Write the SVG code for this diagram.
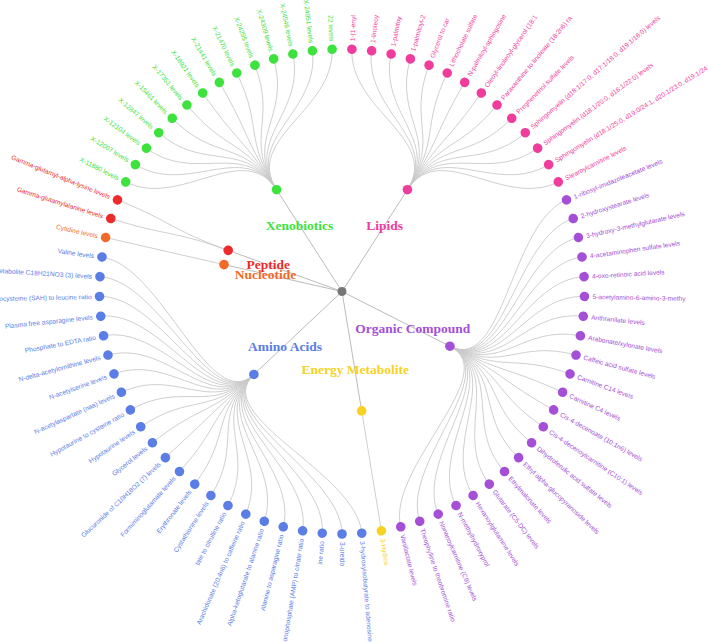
<svg xmlns="http://www.w3.org/2000/svg" width="708" height="642" viewBox="0 0 708 642">
<style>
.link{fill:none;stroke:#c9c9c9;stroke-width:0.9}
.trunk{fill:none;stroke:#bcbcbc;stroke-width:1}
.lf text{font-family:"Liberation Sans",Arial,sans-serif;font-size:6.6px;dominant-baseline:central}
.L text{text-anchor:end}
.cat text{font-family:"Liberation Serif","Times New Roman",serif;font-weight:bold;font-size:13.5px;text-anchor:middle}
.lip{fill:#f03c9c}.org{fill:#a54fd6}.ene{fill:#f7d223}.ami{fill:#5a7de6}.nuc{fill:#f26a2a}.pep{fill:#ee2b2b}.xen{fill:#3de23d}
</style>
<rect width="708" height="642" fill="#ffffff"/>
<g transform="translate(342,291.5)">
<g id="connectors">
<path class="trunk" d="M0,0L65.42,-101.79M0,0L107.92,54.71M0,0L19.66,119.39M0,0L-88.12,82.93M0,0L-117.97,-26.92M0,0L-113.8,-41.13M0,0L-65.42,-101.79"/>
<path class="link" d="M65.42,-101.79C98.26,-152.9 7.41,-181.6 9.89,-242.3M65.42,-101.79C98.26,-152.9 22.19,-180.39 29.61,-240.69M65.42,-101.79C98.26,-152.9 36.82,-177.98 49.12,-237.47M65.42,-101.79C98.26,-152.9 51.2,-174.39 68.32,-232.68M65.42,-101.79C98.26,-152.9 65.25,-169.63 87.06,-226.33M65.42,-101.79C98.26,-152.9 78.86,-163.75 105.22,-218.49M65.42,-101.79C98.26,-152.9 91.95,-156.77 122.68,-209.18M65.42,-101.79C98.26,-152.9 104.41,-148.76 139.31,-198.49M65.42,-101.79C98.26,-152.9 116.21,-139.74 155.06,-186.45M65.42,-101.79C98.26,-152.9 127.2,-129.82 169.71,-173.22M65.42,-101.79C98.26,-152.9 137.36,-119.02 183.27,-158.8M65.42,-101.79C98.26,-152.9 146.6,-107.43 195.6,-143.34M65.42,-101.79C98.26,-152.9 154.85,-95.15 206.61,-126.95M65.42,-101.79C98.26,-152.9 162.11,-82.18 216.29,-109.65"/>
<path class="link" d="M107.92,54.71C162.11,82.18 168.27,-68.7 224.52,-91.66M107.92,54.71C162.11,82.18 173.31,-54.75 231.24,-73.05M107.92,54.71C162.11,82.18 177.19,-40.44 236.42,-53.96M107.92,54.71C162.11,82.18 179.9,-25.86 240.03,-34.51M107.92,54.71C162.11,82.18 181.41,-11.11 242.05,-14.83M107.92,54.71C162.11,82.18 181.71,3.71 242.45,4.95M107.92,54.71C162.11,82.18 180.81,18.51 241.24,24.69M107.92,54.71C162.11,82.18 178.7,33.18 238.43,44.27M107.92,54.71C162.11,82.18 175.39,47.64 234.02,63.56M107.92,54.71C162.11,82.18 170.93,61.77 228.06,82.42M107.92,54.71C162.11,82.18 165.33,75.5 220.59,100.74M107.92,54.71C162.11,82.18 158.61,88.74 211.63,118.4M107.92,54.71C162.11,82.18 150.84,101.39 201.26,135.28M107.92,54.71C162.11,82.18 142.07,113.36 189.55,151.25M107.92,54.71C162.11,82.18 132.36,124.56 176.6,166.19M107.92,54.71C162.11,82.18 121.78,134.91 162.49,180.01M107.92,54.71C162.11,82.18 110.42,144.36 147.32,192.62M107.92,54.71C162.11,82.18 98.26,152.9 131.11,204.01M107.92,54.71C162.11,82.18 85.47,160.4 114.04,214.01M107.92,54.71C162.11,82.18 72.12,166.83 96.22,222.59M107.92,54.71C162.11,82.18 58.28,172.15 77.76,229.7M107.92,54.71C162.11,82.18 44.05,176.33 58.77,235.27"/>
<path class="link" d="M19.66,119.39L39.4,239.28"/>
<path class="link" d="M-88.12,82.93C-132.36,124.56 14.81,181.14 19.76,241.69M-88.12,82.93C-132.36,124.56 0,181.75 0,242.5M-88.12,82.93C-132.36,124.56 -14.81,181.14 -19.76,241.69M-88.12,82.93C-132.36,124.56 -29.53,179.33 -39.4,239.28M-88.12,82.93C-132.36,124.56 -44.05,176.33 -58.77,235.27M-88.12,82.93C-132.36,124.56 -58.28,172.15 -77.76,229.7M-88.12,82.93C-132.36,124.56 -72.12,166.83 -96.22,222.59M-88.12,82.93C-132.36,124.56 -85.47,160.4 -114.04,214.01M-88.12,82.93C-132.36,124.56 -98.26,152.9 -131.11,204.01M-88.12,82.93C-132.36,124.56 -110.42,144.36 -147.32,192.62M-88.12,82.93C-132.36,124.56 -121.78,134.91 -162.49,180.01M-88.12,82.93C-132.36,124.56 -132.36,124.56 -176.6,166.19M-88.12,82.93C-132.36,124.56 -142.07,113.36 -189.55,151.25M-88.12,82.93C-132.36,124.56 -150.84,101.39 -201.26,135.28M-88.12,82.93C-132.36,124.56 -158.61,88.74 -211.63,118.4M-88.12,82.93C-132.36,124.56 -165.33,75.5 -220.59,100.74M-88.12,82.93C-132.36,124.56 -170.93,61.77 -228.06,82.42M-88.12,82.93C-132.36,124.56 -175.39,47.64 -234.02,63.56M-88.12,82.93C-132.36,124.56 -178.7,33.18 -238.43,44.27M-88.12,82.93C-132.36,124.56 -180.81,18.51 -241.24,24.69M-88.12,82.93C-132.36,124.56 -181.71,3.71 -242.45,4.95M-88.12,82.93C-132.36,124.56 -181.41,-11.11 -242.05,-14.83M-88.12,82.93C-132.36,124.56 -179.9,-25.86 -240.03,-34.51"/>
<path class="link" d="M-117.97,-26.92L-236.42,-53.96"/>
<path class="link" d="M-113.8,-41.13C-170.93,-61.77 -173.31,-54.75 -231.24,-73.05M-113.8,-41.13C-170.93,-61.77 -168.27,-68.7 -224.52,-91.66"/>
<path class="link" d="M-65.42,-101.79C-98.26,-152.9 -162.11,-82.18 -216.29,-109.65M-65.42,-101.79C-98.26,-152.9 -154.85,-95.15 -206.61,-126.95M-65.42,-101.79C-98.26,-152.9 -146.6,-107.43 -195.6,-143.34M-65.42,-101.79C-98.26,-152.9 -137.36,-119.02 -183.27,-158.8M-65.42,-101.79C-98.26,-152.9 -127.2,-129.82 -169.71,-173.22M-65.42,-101.79C-98.26,-152.9 -116.21,-139.74 -155.06,-186.45M-65.42,-101.79C-98.26,-152.9 -104.41,-148.76 -139.31,-198.49M-65.42,-101.79C-98.26,-152.9 -91.95,-156.77 -122.68,-209.18M-65.42,-101.79C-98.26,-152.9 -78.86,-163.75 -105.22,-218.49M-65.42,-101.79C-98.26,-152.9 -65.25,-169.63 -87.06,-226.33M-65.42,-101.79C-98.26,-152.9 -51.2,-174.39 -68.32,-232.68M-65.42,-101.79C-98.26,-152.9 -36.82,-177.98 -49.12,-237.47M-65.42,-101.79C-98.26,-152.9 -22.19,-180.39 -29.61,-240.69M-65.42,-101.79C-98.26,-152.9 -7.41,-181.6 -9.89,-242.3"/>
</g>
<g id="leaves">
<g id="lip-0" class="lf lip" transform="rotate(-87.662)"><circle cx="242.5" r="4.8"/><text x="250.5">1-(1-enyl</text></g>
<g id="lip-1" class="lf lip" transform="rotate(-82.987)"><circle cx="242.5" r="4.8"/><text x="250.5">1-linoleoy</text></g>
<g id="lip-2" class="lf lip" transform="rotate(-78.312)"><circle cx="242.5" r="4.8"/><text x="250.5">1-palmitoy</text></g>
<g id="lip-3" class="lf lip" transform="rotate(-73.636)"><circle cx="242.5" r="4.8"/><text x="250.5">1-palmitoyl-2</text></g>
<g id="lip-4" class="lf lip" transform="rotate(-68.961)"><circle cx="242.5" r="4.8"/><text x="250.5">Glycerol to car</text></g>
<g id="lip-5" class="lf lip" transform="rotate(-64.286)"><circle cx="242.5" r="4.8"/><text x="250.5">Lithocholate sulfate</text></g>
<g id="lip-6" class="lf lip" transform="rotate(-59.610)"><circle cx="242.5" r="4.8"/><text x="250.5">N-palmitoyl-sphingosine</text></g>
<g id="lip-7" class="lf lip" transform="rotate(-54.935)"><circle cx="242.5" r="4.8"/><text x="250.5">Oleoyl-linoleoyl-glycerol (18:1</text></g>
<g id="lip-8" class="lf lip" transform="rotate(-50.260)"><circle cx="242.5" r="4.8"/><text x="250.5">Paraxanthine to linoleate (18:2n6) ra</text></g>
<g id="lip-9" class="lf lip" transform="rotate(-45.584)"><circle cx="242.5" r="4.8"/><text x="250.5">Pregnenetriol sulfate levels</text></g>
<g id="lip-10" class="lf lip" transform="rotate(-40.909)"><circle cx="242.5" r="4.8"/><text x="250.5">Sphingomyelin (d18:1/17:0, d17:1/18:0, d19:1/16:0) levels</text></g>
<g id="lip-11" class="lf lip" transform="rotate(-36.234)"><circle cx="242.5" r="4.8"/><text x="250.5">Sphingomyelin (d18:1/20:0, d16:1/22:0) levels</text></g>
<g id="lip-12" class="lf lip" transform="rotate(-31.558)"><circle cx="242.5" r="4.8"/><text x="250.5">Sphingomyelin (d18:1/25:0, d19:0/24:1, d20:1/23:0, d19:1/24:</text></g>
<g id="lip-13" class="lf lip" transform="rotate(-26.883)"><circle cx="242.5" r="4.8"/><text x="250.5">Stearoylcarnitine levels</text></g>
<g id="org-14" class="lf org" transform="rotate(-22.208)"><circle cx="242.5" r="4.8"/><text x="250.5">1-ribosyl-imidazoleacetate levels</text></g>
<g id="org-15" class="lf org" transform="rotate(-17.532)"><circle cx="242.5" r="4.8"/><text x="250.5">2-hydroxystearate levels</text></g>
<g id="org-16" class="lf org" transform="rotate(-12.857)"><circle cx="242.5" r="4.8"/><text x="250.5">3-hydroxy-3-methylglutarate levels</text></g>
<g id="org-17" class="lf org" transform="rotate(-8.182)"><circle cx="242.5" r="4.8"/><text x="250.5">4-acetaminophen sulfate levels</text></g>
<g id="org-18" class="lf org" transform="rotate(-3.506)"><circle cx="242.5" r="4.8"/><text x="250.5">4-oxo-retinoic acid levels</text></g>
<g id="org-19" class="lf org" transform="rotate(1.169)"><circle cx="242.5" r="4.8"/><text x="250.5">5-acetylamino-6-amino-3-methy</text></g>
<g id="org-20" class="lf org" transform="rotate(5.844)"><circle cx="242.5" r="4.8"/><text x="250.5">Anthranilate levels</text></g>
<g id="org-21" class="lf org" transform="rotate(10.519)"><circle cx="242.5" r="4.8"/><text x="250.5">Arabonate/xylonate levels</text></g>
<g id="org-22" class="lf org" transform="rotate(15.195)"><circle cx="242.5" r="4.8"/><text x="250.5">Caffeic acid sulfate levels</text></g>
<g id="org-23" class="lf org" transform="rotate(19.870)"><circle cx="242.5" r="4.8"/><text x="250.5">Carnitine C14 levels</text></g>
<g id="org-24" class="lf org" transform="rotate(24.545)"><circle cx="242.5" r="4.8"/><text x="250.5">Carnitine C4 levels</text></g>
<g id="org-25" class="lf org" transform="rotate(29.221)"><circle cx="242.5" r="4.8"/><text x="250.5">Cis-4-decenoate (10:1n6) levels</text></g>
<g id="org-26" class="lf org" transform="rotate(33.896)"><circle cx="242.5" r="4.8"/><text x="250.5">Cis-4-decenoylcarnitine (C10:1) levels</text></g>
<g id="org-27" class="lf org" transform="rotate(38.571)"><circle cx="242.5" r="4.8"/><text x="250.5">Dihydroferulic acid sulfate levels</text></g>
<g id="org-28" class="lf org" transform="rotate(43.247)"><circle cx="242.5" r="4.8"/><text x="250.5">Ethyl alpha-glucopyranoside levels</text></g>
<g id="org-29" class="lf org" transform="rotate(47.922)"><circle cx="242.5" r="4.8"/><text x="250.5">Ethylmalonate levels</text></g>
<g id="org-30" class="lf org" transform="rotate(52.597)"><circle cx="242.5" r="4.8"/><text x="250.5">Glutarate (C5-DC) levels</text></g>
<g id="org-31" class="lf org" transform="rotate(57.273)"><circle cx="242.5" r="4.8"/><text x="250.5">Hexanoylglutamine levels</text></g>
<g id="org-32" class="lf org" transform="rotate(61.948)"><circle cx="242.5" r="4.8"/><text x="250.5">N-methylhydroxyprol</text></g>
<g id="org-33" class="lf org" transform="rotate(66.623)"><circle cx="242.5" r="4.8"/><text x="250.5">Nonanoylcarnitine (C9) levels</text></g>
<g id="org-34" class="lf org" transform="rotate(71.299)"><circle cx="242.5" r="4.8"/><text x="250.5">Theophylline to theobromine ratio</text></g>
<g id="org-35" class="lf org" transform="rotate(75.974)"><circle cx="242.5" r="4.8"/><text x="250.5">Vanillactate levels</text></g>
<g id="ene-36" class="lf ene" transform="rotate(80.649)"><circle cx="242.5" r="4.8"/><text x="250.5">3-Hydrox</text></g>
<g id="ami-37" class="lf ami" transform="rotate(85.325)"><circle cx="242.5" r="4.8"/><text x="250.5">3-hydroxyisobutyrate to adenosine</text></g>
<g id="ami-38" class="lf ami" transform="rotate(90)"><circle cx="242.5" r="4.8"/><text x="250.5">3-ureido</text></g>
<g id="ami-39" class="lf ami L" transform="rotate(94.675)"><circle cx="242.5" r="4.8"/><text transform="translate(250.5) rotate(180)">ine ratio</text></g>
<g id="ami-40" class="lf ami L" transform="rotate(99.351)"><circle cx="242.5" r="4.8"/><text transform="translate(250.5) rotate(180)">onophosphate (AMP) to citrate ratio</text></g>
<g id="ami-41" class="lf ami L" transform="rotate(104.026)"><circle cx="242.5" r="4.8"/><text transform="translate(250.5) rotate(180)">Alanine to asparagine ratio</text></g>
<g id="ami-42" class="lf ami L" transform="rotate(108.701)"><circle cx="242.5" r="4.8"/><text transform="translate(250.5) rotate(180)">Alpha-ketoglutarate to alanine ratio</text></g>
<g id="ami-43" class="lf ami L" transform="rotate(113.377)"><circle cx="242.5" r="4.8"/><text transform="translate(250.5) rotate(180)">Arachidonate (20:4n6) to caffeine ratio</text></g>
<g id="ami-44" class="lf ami L" transform="rotate(118.052)"><circle cx="242.5" r="4.8"/><text transform="translate(250.5) rotate(180)">tate to citrulline ratio</text></g>
<g id="ami-45" class="lf ami L" transform="rotate(122.727)"><circle cx="242.5" r="4.8"/><text transform="translate(250.5) rotate(180)">Cystathionine levels</text></g>
<g id="ami-46" class="lf ami L" transform="rotate(127.403)"><circle cx="242.5" r="4.8"/><text transform="translate(250.5) rotate(180)">Erythronate levels</text></g>
<g id="ami-47" class="lf ami L" transform="rotate(132.078)"><circle cx="242.5" r="4.8"/><text transform="translate(250.5) rotate(180)">Formiminoglutamate levels</text></g>
<g id="ami-48" class="lf ami L" transform="rotate(136.753)"><circle cx="242.5" r="4.8"/><text transform="translate(250.5) rotate(180)">Glucuronide of C10H18O2 (7) levels</text></g>
<g id="ami-49" class="lf ami L" transform="rotate(141.429)"><circle cx="242.5" r="4.8"/><text transform="translate(250.5) rotate(180)">Glycerol levels</text></g>
<g id="ami-50" class="lf ami L" transform="rotate(146.104)"><circle cx="242.5" r="4.8"/><text transform="translate(250.5) rotate(180)">Hypotaurine levels</text></g>
<g id="ami-51" class="lf ami L" transform="rotate(150.779)"><circle cx="242.5" r="4.8"/><text transform="translate(250.5) rotate(180)">Hypotaurine to cysteine ratio</text></g>
<g id="ami-52" class="lf ami L" transform="rotate(155.455)"><circle cx="242.5" r="4.8"/><text transform="translate(250.5) rotate(180)">N-acetylaspartate (naa) levels</text></g>
<g id="ami-53" class="lf ami L" transform="rotate(160.130)"><circle cx="242.5" r="4.8"/><text transform="translate(250.5) rotate(180)">N-acetylserine levels</text></g>
<g id="ami-54" class="lf ami L" transform="rotate(164.805)"><circle cx="242.5" r="4.8"/><text transform="translate(250.5) rotate(180)">N-delta-acetylornithine levels</text></g>
<g id="ami-55" class="lf ami L" transform="rotate(169.481)"><circle cx="242.5" r="4.8"/><text transform="translate(250.5) rotate(180)">Phosphate to EDTA ratio</text></g>
<g id="ami-56" class="lf ami L" transform="rotate(174.156)"><circle cx="242.5" r="4.8"/><text transform="translate(250.5) rotate(180)">Plasma free asparagine levels</text></g>
<g id="ami-57" class="lf ami L" transform="rotate(178.831)"><circle cx="242.5" r="4.8"/><text transform="translate(250.5) rotate(180)">ocysteine (SAH) to leucine ratio</text></g>
<g id="ami-58" class="lf ami L" transform="rotate(183.506)"><circle cx="242.5" r="4.8"/><text transform="translate(250.5) rotate(180)">etabolite C18H21NO3 (3) levels</text></g>
<g id="ami-59" class="lf ami L" transform="rotate(188.182)"><circle cx="242.5" r="4.8"/><text transform="translate(250.5) rotate(180)">Valine levels</text></g>
<g id="nuc-60" class="lf nuc L" transform="rotate(192.857)"><circle cx="242.5" r="4.8"/><text transform="translate(250.5) rotate(180)">Cytidine levels</text></g>
<g id="pep-61" class="lf pep L" transform="rotate(197.532)"><circle cx="242.5" r="4.8"/><text transform="translate(250.5) rotate(180)">Gamma-glutamylalanine levels</text></g>
<g id="pep-62" class="lf pep L" transform="rotate(202.208)"><circle cx="242.5" r="4.8"/><text transform="translate(250.5) rotate(180)">Gamma-glutamyl-alpha-lysine levels</text></g>
<g id="xen-63" class="lf xen L" transform="rotate(206.883)"><circle cx="242.5" r="4.8"/><text transform="translate(250.5) rotate(180)">X-11880 levels</text></g>
<g id="xen-64" class="lf xen L" transform="rotate(211.558)"><circle cx="242.5" r="4.8"/><text transform="translate(250.5) rotate(180)">X-12007 levels</text></g>
<g id="xen-65" class="lf xen L" transform="rotate(216.234)"><circle cx="242.5" r="4.8"/><text transform="translate(250.5) rotate(180)">X-12104 levels</text></g>
<g id="xen-66" class="lf xen L" transform="rotate(220.909)"><circle cx="242.5" r="4.8"/><text transform="translate(250.5) rotate(180)">X-12847 levels</text></g>
<g id="xen-67" class="lf xen L" transform="rotate(225.584)"><circle cx="242.5" r="4.8"/><text transform="translate(250.5) rotate(180)">X-15461 levels</text></g>
<g id="xen-68" class="lf xen L" transform="rotate(230.260)"><circle cx="242.5" r="4.8"/><text transform="translate(250.5) rotate(180)">X-17351 levels</text></g>
<g id="xen-69" class="lf xen L" transform="rotate(234.935)"><circle cx="242.5" r="4.8"/><text transform="translate(250.5) rotate(180)">X-18921 levels</text></g>
<g id="xen-70" class="lf xen L" transform="rotate(239.610)"><circle cx="242.5" r="4.8"/><text transform="translate(250.5) rotate(180)">X-21441 levels</text></g>
<g id="xen-71" class="lf xen L" transform="rotate(244.286)"><circle cx="242.5" r="4.8"/><text transform="translate(250.5) rotate(180)">X-21470 levels</text></g>
<g id="xen-72" class="lf xen L" transform="rotate(248.961)"><circle cx="242.5" r="4.8"/><text transform="translate(250.5) rotate(180)">X-24295 levels</text></g>
<g id="xen-73" class="lf xen L" transform="rotate(253.636)"><circle cx="242.5" r="4.8"/><text transform="translate(250.5) rotate(180)">X-24309 levels</text></g>
<g id="xen-74" class="lf xen L" transform="rotate(258.312)"><circle cx="242.5" r="4.8"/><text transform="translate(250.5) rotate(180)">X-24546 levels</text></g>
<g id="xen-75" class="lf xen L" transform="rotate(262.987)"><circle cx="242.5" r="4.8"/><text transform="translate(250.5) rotate(180)">X-24951 levels</text></g>
<g id="xen-76" class="lf xen L" transform="rotate(267.662)"><circle cx="242.5" r="4.8"/><text transform="translate(250.5) rotate(180)">22 levels</text></g>
</g>
<g id="categories">
<g id="cat-lipids" class="cat lip"><circle cx="65.42" cy="-101.79" r="4.8"/><text x="42.7" y="-61.5">Lipids</text></g>
<g id="cat-organic" class="cat org"><circle cx="107.92" cy="54.71" r="4.8"/><text x="70.8" y="41.2">Organic Compound</text></g>
<g id="cat-energy" class="cat ene"><circle cx="19.66" cy="119.39" r="4.8"/><text x="13.2" y="82.5">Energy Metabolite</text></g>
<g id="cat-amino" class="cat ami"><circle cx="-88.12" cy="82.93" r="4.8"/><text x="-57" y="59.2">Amino Acids</text></g>
<g id="cat-nucleotide" class="cat nuc"><circle cx="-117.97" cy="-26.92" r="4.8"/><text x="-76.5" y="-12.5">Nucleotide</text></g>
<g id="cat-peptide" class="cat pep"><circle cx="-113.8" cy="-41.13" r="4.8"/><text x="-73.7" y="-22.5">Peptide</text></g>
<g id="cat-xeno" class="cat xen"><circle cx="-65.42" cy="-101.79" r="4.8"/><text x="-42.5" y="-61.5">Xenobiotics</text></g>
</g>
<g id="root"><circle r="4.5" fill="#777777"/></g>
</g>
</svg>
